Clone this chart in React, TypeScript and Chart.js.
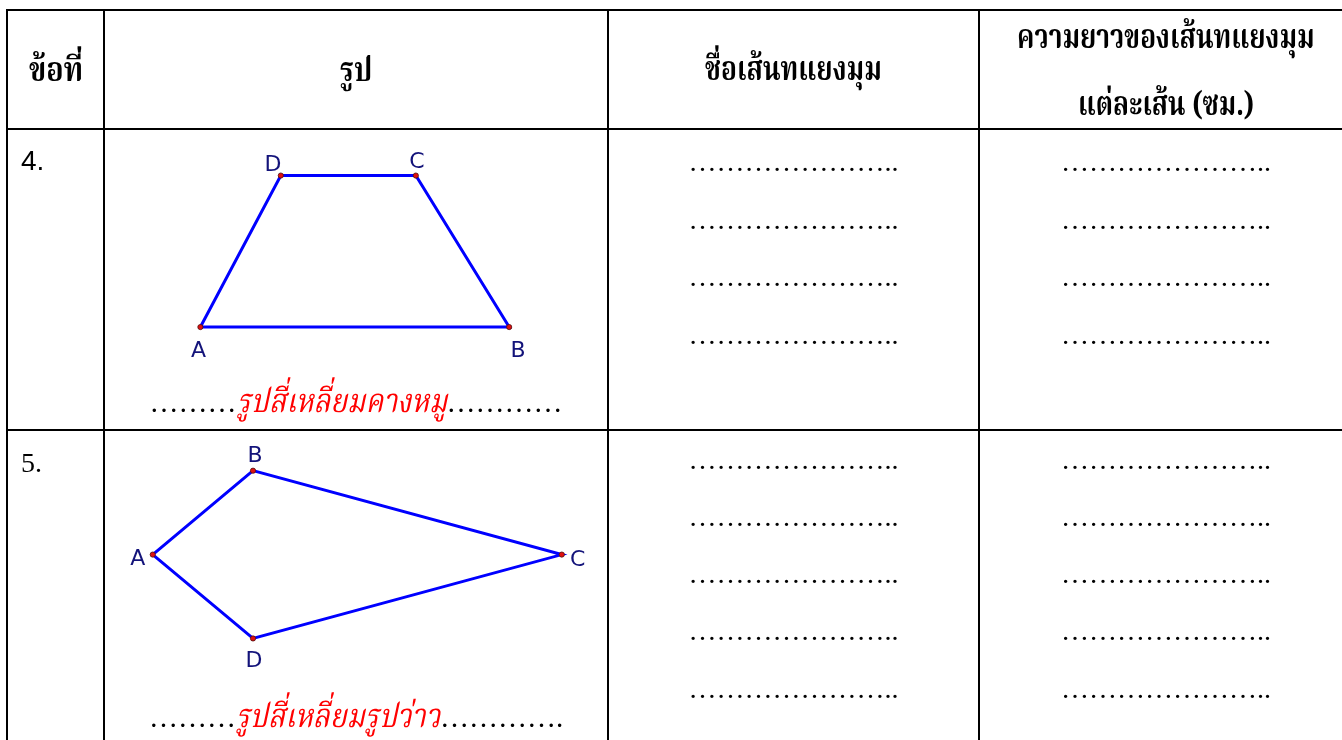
import React, { useEffect, useLayoutEffect, useRef, useState } from "react";
import { Chart, registerables } from "chart.js";

Chart.register(...registerables);

// ---- data ----
const headerLabels = ["ข้อที่", "รูป", "ชื่อเส้นทแยงมุม", "ความยาวของเส้นทแยงมุม", "แต่ละเส้น (ซม.)"];
const itemNumbers = ["4.", "5."];
const shapeNames = ["รูปสี่เหลี่ยมคางหมู", "รูปสี่เหลี่ยมรูปว่าว"];
const blankLine = "…".repeat(7) + "..";
const captionLeft = ["…".repeat(3), "…".repeat(3)];
const captionRight = ["…".repeat(4), "…".repeat(4) + "."];
const blankCounts = [4, 5];

const vertexNames = ["A", "B", "C", "D"];
// trapezoid (page units)
const trapezoidX = [197, 508, 414, 278];
const trapezoidY = [326.5, 326.5, 173, 173];
const trapezoidLabelX = [195, 517, 415, 270];
const trapezoidLabelY = [349, 349, 157, 160];
// kite (page units)
const kiteX = [149, 250, 561, 250];
const kiteY = [557, 472, 557, 642];
const kiteLabelX = [134, 252, 577, 251];
const kiteLabelY = [559, 455, 560, 663];

const W = 1342;
const H = 740;
const COLS = [7, 104, 608, 979, 1353];
const ROWS = [10, 129, 430];

const THAI_SERIF = "'Noto Serif Thai', 'Norasi', 'Noto Sans Thai', 'Loma', serif";
const DOT_FONT = "'Liberation Serif', 'DejaVu Serif', serif";

function polygon(xs: number[], ys: number[]) {
  const pts = xs.map((x, i) => ({ x, y: ys[i] }));
  return [...pts, pts[0]];
}

const LABEL_PX = 22;

const labelPlugin = {
  id: "vertexLabels",
  afterDatasetsDraw(chart: any) {
    const { ctx, scales } = chart;
    const sx = scales.x;
    const sy = scales.y;
    ctx.save();
    ctx.font = `${LABEL_PX}px 'DejaVu Sans', sans-serif`;
    ctx.fillStyle = "#13137a";
    ctx.textAlign = "center";
    ctx.textBaseline = "alphabetic";
    const sets = [
      [trapezoidLabelX, trapezoidLabelY],
      [kiteLabelX, kiteLabelY],
    ];
    sets.forEach(([lx, ly]) => {
      vertexNames.forEach((n, i) => {
        ctx.fillText(n, sx.getPixelForValue(lx[i]), sy.getPixelForValue(ly[i]) + LABEL_PX * 0.365);
      });
    });
    ctx.restore();
  },
};

function Shapes() {
  const ref = useRef<HTMLCanvasElement | null>(null);
  useEffect(() => {
    if (!ref.current) return;
    const lineStyle = {
      showLine: true,
      borderColor: "#0000ff",
      borderWidth: 3,
      pointRadius: 0,
      fill: false,
      tension: 0,
      order: 2,
    };
    const pointStyle = {
      showLine: false,
      pointRadius: 2.6,
      pointBackgroundColor: "#e01010",
      pointBorderColor: "#501010",
      pointBorderWidth: 0.8,
      order: 1,
    };
    const chart = new Chart(ref.current, {
      type: "scatter",
      data: {
        datasets: [
          { ...pointStyle, data: trapezoidX.map((x, i) => ({ x, y: trapezoidY[i] })) },
          { ...pointStyle, data: kiteX.map((x, i) => ({ x, y: kiteY[i] })) },
          { ...lineStyle, data: polygon(trapezoidX, trapezoidY) },
          { ...lineStyle, data: polygon(kiteX, kiteY) },
        ],
      } as any,
      options: {
        responsive: false,
        animation: false,
        devicePixelRatio: 1,
        layout: { padding: 0 },
        plugins: { legend: { display: false }, tooltip: { enabled: false } },
        scales: {
          x: { type: "linear", min: 0, max: W, display: false },
          y: { type: "linear", min: 0, max: H, reverse: true, display: false },
        },
      } as any,
      plugins: [labelPlugin],
    });
    return () => chart.destroy();
  }, []);
  return (
    <canvas
      ref={ref}
      width={W}
      height={H}
      style={{ position: "absolute", left: 0, top: 0, width: W, height: H }}
    />
  );
}

// Inline span squeezed/stretched horizontally to a target width
function FitSpan({ target, children, style }: { target: number; children: React.ReactNode; style?: React.CSSProperties }) {
  const inner = useRef<HTMLSpanElement | null>(null);
  const [k, setK] = useState(1);
  useLayoutEffect(() => {
    if (inner.current && inner.current.offsetWidth > 0) setK(target / inner.current.offsetWidth);
  }, [target]);
  return (
    <span style={{ display: "inline-block", width: target, ...style }}>
      <span
        ref={inner}
        style={{ display: "inline-block", transform: `scaleX(${k})`, transformOrigin: "left center", whiteSpace: "nowrap" }}
      >
        {children}
      </span>
    </span>
  );
}

// Text block placed so its baseline lands at a given y
function BText({
  left,
  width,
  baseline,
  align = "center",
  style,
  children,
}: {
  left: number;
  width?: number;
  baseline: number;
  align?: "center" | "left";
  style?: React.CSSProperties;
  children: React.ReactNode;
}) {
  const marker = useRef<HTMLSpanElement | null>(null);
  const [top, setTop] = useState(0);
  useLayoutEffect(() => {
    if (marker.current) setTop(baseline - (marker.current.offsetTop + marker.current.offsetHeight));
  }, [baseline]);
  return (
    <div
      style={{
        position: "absolute",
        left,
        width,
        top,
        textAlign: align,
        whiteSpace: "nowrap",
        color: "#000",
        ...style,
      }}
    >
      {children}
      <span ref={marker} style={{ display: "inline-block", width: 0, height: 0, verticalAlign: "baseline" }} />
    </div>
  );
}

const abs = (s: React.CSSProperties): React.CSSProperties => ({ position: "absolute", ...s });

export default function App() {
  const lines: React.ReactNode[] = [];
  ROWS.forEach((y, i) =>
    lines.push(<div key={"h" + i} style={abs({ left: COLS[0] - 1, top: y - 1, width: W, height: 2, background: "#000" })} />)
  );
  COLS.forEach((x, i) =>
    lines.push(<div key={"v" + i} style={abs({ left: x - 1, top: ROWS[0] - 1, width: 2, height: H, background: "#000" })} />)
  );

  const headerFont: React.CSSProperties = {
    fontFamily: THAI_SERIF,
    fontWeight: 700,
    fontSize: 33,
    lineHeight: "40px",
  };
  const headerSpec = [
    { col: 0, base: 81, w: 54 },
    { col: 1, base: 81, w: 32 },
    { col: 2, base: 80, w: 177 },
    { col: 3, base: 48, w: 298 },
    { col: 3, base: 115, w: 176 },
  ];

  const rowDotY = [
    [169, 227, 284, 342],
    [467, 524, 581, 638, 696],
  ];
  const dotRows: React.ReactNode[] = [];
  rowDotY.forEach((ys, r) =>
    ys.slice(0, blankCounts[r]).forEach((y, k) =>
      [2, 3].forEach((c) =>
        dotRows.push(
          <BText
            key={`d${r}${k}${c}`}
            left={COLS[c]}
            width={COLS[c + 1] - COLS[c]}
            baseline={y + 1.5}
            style={{ fontFamily: DOT_FONT, fontSize: 28, lineHeight: "30px" }}
          >
            {blankLine}
          </BText>
        )
      )
    )
  );

  const captionBase = [411.5, 726.5];
  const captionWidth = [210, 204];

  return (
    <div style={{ position: "absolute", left: 0, top: 0, width: W, height: H, overflow: "hidden", background: "#fff" }}>
      <Shapes />
      {lines}
      {headerSpec.map((h, i) => (
        <BText key={"hd" + i} left={COLS[h.col]} width={COLS[h.col + 1] - COLS[h.col]} baseline={h.base} style={headerFont}>
          <FitSpan target={h.w}>{headerLabels[i]}</FitSpan>
        </BText>
      ))}
      {itemNumbers.map((n, i) => (
        <BText
          key={"n" + i}
          left={21}
          baseline={[170, 472][i]}
          align="left"
          style={{
            fontFamily: i === 0 ? "'Liberation Sans Narrow', 'Liberation Sans', sans-serif" : "'Liberation Serif', serif",
            fontSize: 28,
            lineHeight: "30px",
          }}
        >
          {n}
        </BText>
      ))}
      {dotRows}
      {shapeNames.map((name, i) => (
        <BText
          key={"c" + i}
          left={COLS[1]}
          width={COLS[2] - COLS[1]}
          baseline={captionBase[i]}
          style={{ fontFamily: DOT_FONT, fontSize: 29, lineHeight: "32px" }}
        >
          <span>{captionLeft[i]}</span>
          <FitSpan target={captionWidth[i]} style={{ color: "#ff0000" }}>
            <span style={{ fontStyle: "italic", fontFamily: THAI_SERIF, fontSize: 33 }}>{name}</span>
          </FitSpan>
          <span>{captionRight[i]}</span>
        </BText>
      ))}
    </div>
  );
}
